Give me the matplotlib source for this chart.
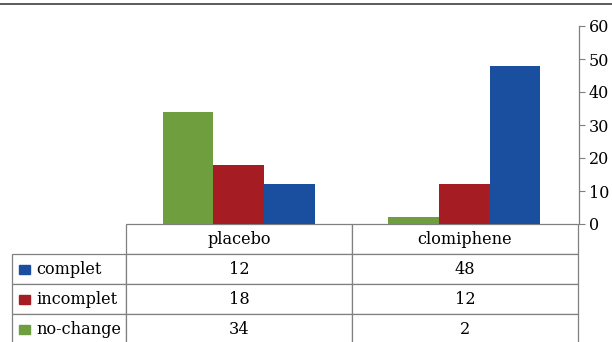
import matplotlib
matplotlib.use("Agg")
import matplotlib.pyplot as plt
from matplotlib.table import Table
from matplotlib.patches import Rectangle
from matplotlib.lines import Line2D

groups = ["placebo", "clomiphene"]
series = ["complet", "incomplet", "no-change"]
values = {
    "complet": [12, 48],
    "incomplet": [18, 12],
    "no-change": [34, 2],
}
colors = {"complet": "#1a4f9f", "incomplet": "#a51d22", "no-change": "#6f9e3f"}
bar_order = ["no-change", "incomplet", "complet"]
yticks = [0, 10, 20, 30, 40, 50, 60]

plt.rcParams["font.family"] = "DejaVu Serif"

W, H = 612, 342
fig = plt.figure(figsize=(W / 100, H / 100), dpi=100)

# axes in pixel terms: x 126..579, y 26..224 (from top)
ax = fig.add_axes([126 / W, (H - 224) / H, 453 / W, 198 / H])

bw = 0.225
x = list(range(len(groups)))
for i, name in enumerate(bar_order):
    ax.bar([xi + (i - 1) * bw for xi in x], values[name], width=bw,
           color=colors[name], edgecolor="none")

ax.set_xlim(-0.5, len(groups) - 0.5 + 2 / 226)
ax.set_ylim(0, 60)
ax.set_xticks([])
ax.set_yticks(yticks)
ax.yaxis.tick_right()
ax.tick_params(axis="y", direction="out", length=4.5, width=0.8, color="#7f7f7f",
               labelsize=11.5, pad=2.5)
for s in ["left", "top", "bottom"]:
    ax.spines[s].set_visible(False)
ax.spines["right"].set_color("#7f7f7f")
ax.spines["right"].set_linewidth(0.9)

# data table below the bars
x0 = (12 - 126) / 453
tb = Table(ax, bbox=[x0, (224 - 344) / 198, (578 - 12) / 453, 120 / 198])
col_w = [114 / 566, 226 / 566, 226 / 566]
row_h = 1 / 4
edge = "#808080"

c = tb.add_cell(0, 0, width=col_w[0], height=row_h, text="", edgecolor=edge)
c.visible_edges = ""
for j, g in enumerate(groups):
    tb.add_cell(0, j + 1, width=col_w[j + 1], height=row_h, text=g,
                loc="center", edgecolor=edge)
for i, name in enumerate(series):
    c = tb.add_cell(i + 1, 0, width=col_w[0], height=row_h, text=name,
                    loc="left", edgecolor=edge)
    c.PAD = 0.215
    for j in range(len(groups)):
        tb.add_cell(i + 1, j + 1, width=col_w[j + 1], height=row_h,
                    text=str(values[name][j]), loc="center", edgecolor=edge)
for cell in tb.get_celld().values():
    cell.set_linewidth(0.9)
    cell.get_text().set_fontsize(11.6)
tb.auto_set_font_size(False)
ax.add_table(tb)

# legend keys in the row labels
for i, name in enumerate(series):
    yc = 269 + 30 * i
    fig.add_artist(Rectangle((19 / W, (H - yc - 4.5) / H), 11 / W, 9 / H,
                             transform=fig.transFigure, color=colors[name]))

# top rule
fig.add_artist(Line2D([0, 1], [(H - 4) / H] * 2, transform=fig.transFigure,
                      color="#404040", linewidth=1.2))

fig.savefig("out.png", dpi=100)
